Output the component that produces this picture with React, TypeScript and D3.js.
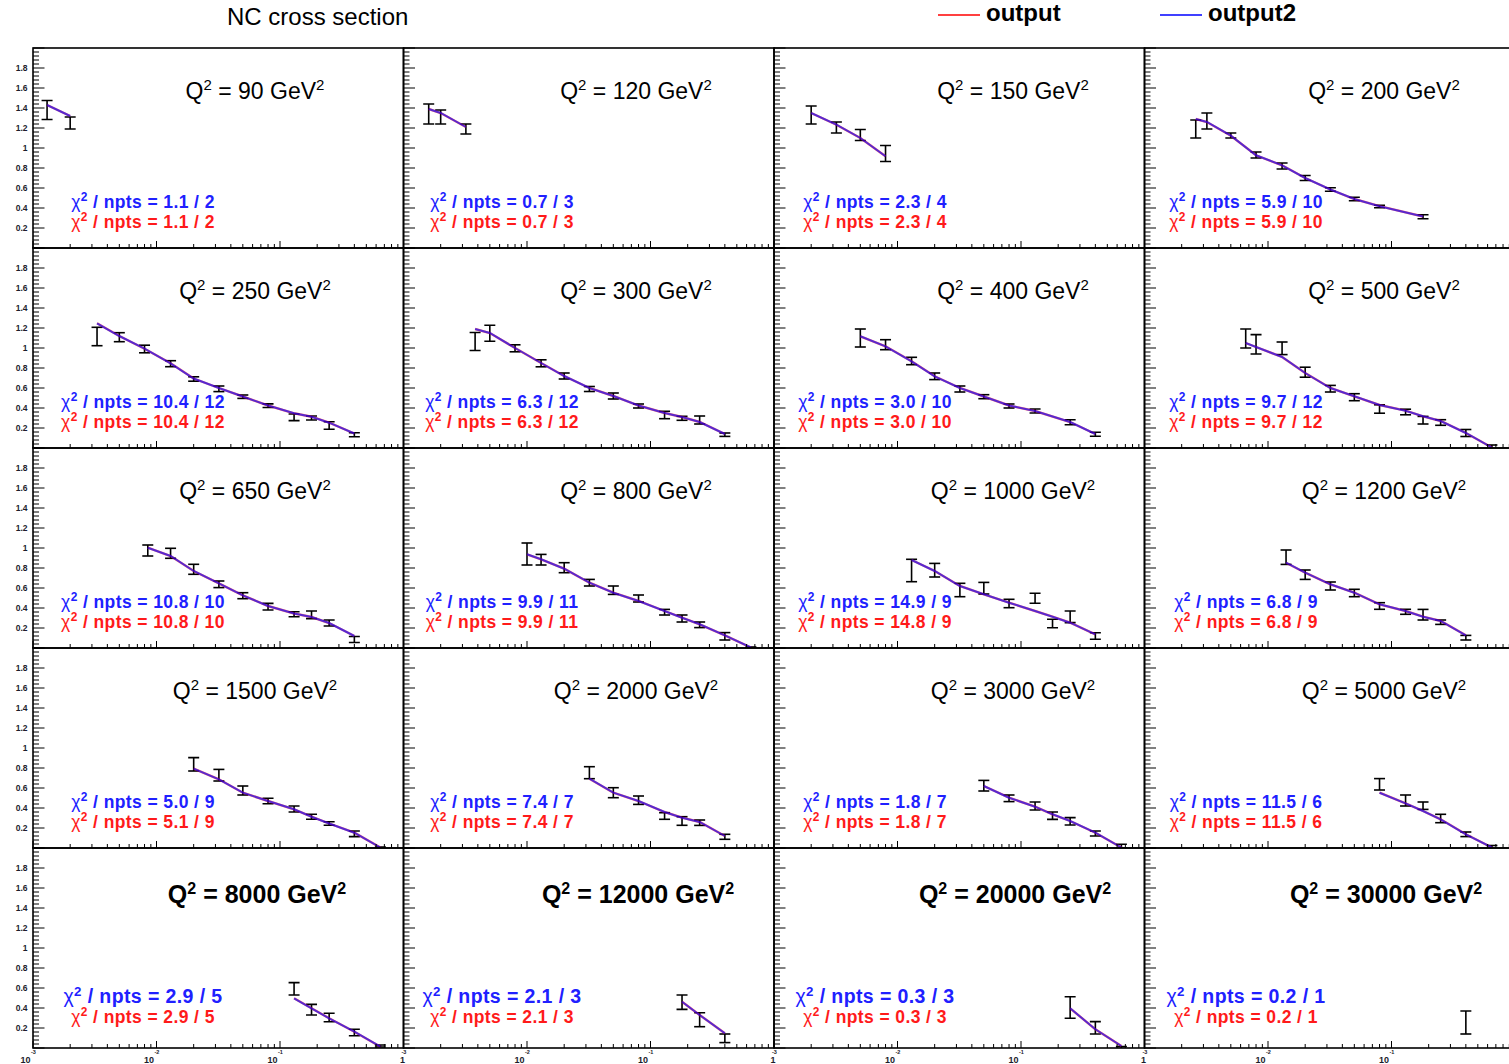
import React from "react";
import * as d3 from "d3";

// ---------------- data ----------------
const Q2_VALUES: number[] = [90, 120, 150, 200, 250, 300, 400, 500, 650, 800, 1000, 1200, 1500, 2000, 3000, 5000, 8000, 12000, 20000, 30000];

const X_VALUES: number[][] = [
  [0.0013, 0.002],
  [0.0016, 0.002, 0.0032],
  [0.002, 0.0032, 0.005, 0.008],
  [0.0026, 0.0032, 0.005, 0.008, 0.013, 0.02, 0.032, 0.05, 0.08, 0.18],
  [0.0033, 0.005, 0.008, 0.013, 0.02, 0.032, 0.05, 0.08, 0.13, 0.18, 0.25, 0.4],
  [0.0038, 0.005, 0.008, 0.013, 0.02, 0.032, 0.05, 0.08, 0.13, 0.18, 0.25, 0.4],
  [0.005, 0.008, 0.013, 0.02, 0.032, 0.05, 0.08, 0.13, 0.25, 0.4],
  [0.0066, 0.008, 0.013, 0.02, 0.032, 0.05, 0.08, 0.13, 0.18, 0.25, 0.4, 0.65],
  [0.0085, 0.013, 0.02, 0.032, 0.05, 0.08, 0.13, 0.18, 0.25, 0.4],
  [0.01, 0.013, 0.02, 0.032, 0.05, 0.08, 0.13, 0.18, 0.25, 0.4, 0.65],
  [0.013, 0.02, 0.032, 0.05, 0.08, 0.13, 0.18, 0.25, 0.4],
  [0.014, 0.02, 0.032, 0.05, 0.08, 0.13, 0.18, 0.25, 0.4],
  [0.02, 0.032, 0.05, 0.08, 0.13, 0.18, 0.25, 0.4, 0.65],
  [0.032, 0.05, 0.08, 0.13, 0.18, 0.25, 0.4],
  [0.05, 0.08, 0.13, 0.18, 0.25, 0.4, 0.65],
  [0.08, 0.13, 0.18, 0.25, 0.4, 0.65],
  [0.13, 0.18, 0.25, 0.4, 0.65],
  [0.18, 0.25, 0.4],
  [0.25, 0.4, 0.65],
  [0.4],
];

const DATA_VALUES: number[][] = [
  [1.38, 1.25],
  [1.34, 1.31, 1.19],
  [1.33, 1.205, 1.13, 0.945],
  [1.19, 1.27, 1.125, 0.93, 0.82, 0.7, 0.585, 0.49, 0.415, 0.313],
  [1.115, 1.108, 0.99, 0.843, 0.69, 0.592, 0.513, 0.423, 0.307, 0.3, 0.225, 0.133],
  [1.065, 1.147, 0.997, 0.847, 0.72, 0.59, 0.52, 0.42, 0.33, 0.297, 0.28, 0.133],
  [1.1, 1.033, 0.87, 0.717, 0.59, 0.513, 0.42, 0.37, 0.258, 0.138],
  [1.095, 1.037, 0.997, 0.758, 0.593, 0.508, 0.39, 0.36, 0.278, 0.255, 0.15, 0.01],
  [0.975, 0.947, 0.787, 0.637, 0.523, 0.413, 0.338, 0.332, 0.25, 0.085],
  [0.94, 0.883, 0.803, 0.653, 0.578, 0.495, 0.358, 0.295, 0.232, 0.117, 0.005],
  [0.775, 0.778, 0.58, 0.598, 0.445, 0.497, 0.245, 0.312, 0.12],
  [0.908, 0.733, 0.62, 0.55, 0.42, 0.362, 0.333, 0.258, 0.103],
  [0.837, 0.728, 0.575, 0.47, 0.39, 0.312, 0.245, 0.142, 0.005],
  [0.753, 0.553, 0.478, 0.32, 0.27, 0.253, 0.112],
  [0.623, 0.497, 0.42, 0.323, 0.267, 0.145, 0.02],
  [0.637, 0.475, 0.423, 0.295, 0.137, 0.01],
  [0.592, 0.383, 0.305, 0.155, 0.02],
  [0.458, 0.283, 0.097],
  [0.405, 0.202, 0.005],
  [0.255],
];

const DATA_ERRORS: number[][] = [
  [0.095, 0.06],
  [0.1, 0.07, 0.05],
  [0.09, 0.055, 0.055, 0.08],
  [0.09, 0.08, 0.025, 0.03, 0.03, 0.025, 0.017, 0.017, 0.013, 0.02],
  [0.092, 0.045, 0.038, 0.03, 0.022, 0.028, 0.017, 0.018, 0.033, 0.02, 0.038, 0.02],
  [0.09, 0.08, 0.035, 0.035, 0.03, 0.025, 0.03, 0.02, 0.037, 0.02, 0.04, 0.017],
  [0.09, 0.05, 0.037, 0.033, 0.03, 0.02, 0.02, 0.02, 0.025, 0.02],
  [0.095, 0.097, 0.063, 0.05, 0.033, 0.035, 0.042, 0.028, 0.038, 0.028, 0.035, 0.02],
  [0.055, 0.05, 0.05, 0.033, 0.03, 0.033, 0.025, 0.038, 0.03, 0.03],
  [0.11, 0.053, 0.05, 0.033, 0.042, 0.035, 0.028, 0.035, 0.028, 0.037, 0.005],
  [0.112, 0.068, 0.067, 0.058, 0.042, 0.05, 0.042, 0.058, 0.033],
  [0.072, 0.047, 0.04, 0.037, 0.033, 0.025, 0.053, 0.022, 0.023],
  [0.067, 0.058, 0.045, 0.027, 0.03, 0.025, 0.018, 0.028, 0.005],
  [0.06, 0.05, 0.042, 0.033, 0.043, 0.027, 0.025],
  [0.053, 0.033, 0.04, 0.037, 0.037, 0.025, 0.017],
  [0.057, 0.055, 0.037, 0.042, 0.023, 0.015],
  [0.062, 0.053, 0.042, 0.032, 0.01],
  [0.072, 0.07, 0.043],
  [0.108, 0.062, 0.01],
  [0.115],
];

// theory curve of "output" (red)
const THEORY_OUTPUT: number[][] = [
  [1.43, 1.32],
  [1.39, 1.35, 1.21],
  [1.35, 1.233, 1.1, 0.917],
  [1.29, 1.26, 1.123, 0.927, 0.827, 0.7, 0.585, 0.49, 0.418, 0.315],
  [1.247, 1.12, 0.993, 0.847, 0.695, 0.6, 0.515, 0.425, 0.347, 0.313, 0.253, 0.145],
  [1.19, 1.15, 1.0, 0.85, 0.72, 0.6, 0.52, 0.425, 0.35, 0.31, 0.26, 0.14],
  [1.117, 1.017, 0.867, 0.717, 0.6, 0.515, 0.425, 0.37, 0.26, 0.14],
  [1.05, 1.01, 0.91, 0.75, 0.6, 0.517, 0.43, 0.373, 0.317, 0.27, 0.15, 0.005],
  [1.003, 0.92, 0.77, 0.647, 0.527, 0.42, 0.345, 0.31, 0.25, 0.12],
  [0.937, 0.887, 0.793, 0.653, 0.553, 0.47, 0.37, 0.303, 0.237, 0.127, 0.005],
  [0.88, 0.77, 0.62, 0.537, 0.453, 0.37, 0.313, 0.253, 0.137],
  [0.853, 0.753, 0.637, 0.553, 0.437, 0.37, 0.313, 0.27, 0.127],
  [0.793, 0.687, 0.553, 0.47, 0.387, 0.313, 0.245, 0.153, 0.005],
  [0.693, 0.553, 0.47, 0.36, 0.303, 0.26, 0.12],
  [0.62, 0.503, 0.413, 0.337, 0.27, 0.153, 0.005],
  [0.553, 0.447, 0.37, 0.287, 0.137, 0.005],
  [0.497, 0.397, 0.297, 0.163, 0.013],
  [0.463, 0.33, 0.147],
  [0.397, 0.187, 0.02],
  [0.26],
];
// theory curve of "output2" (blue): identical readings, drawn on top of the red one
const THEORY_OUTPUT2: number[][] = THEORY_OUTPUT.map((r) => r.slice());

const CHI2_OUTPUT: number[] = [1.1, 0.7, 2.3, 5.9, 10.4, 6.3, 3.0, 9.7, 10.8, 9.9, 14.8, 6.8, 5.1, 7.4, 1.8, 11.5, 2.9, 2.1, 0.3, 0.2];
const CHI2_OUTPUT2: number[] = [1.1, 0.7, 2.3, 5.9, 10.4, 6.3, 3.0, 9.7, 10.8, 9.9, 14.9, 6.8, 5.0, 7.4, 1.8, 11.5, 2.9, 2.1, 0.3, 0.2];
const NPTS: number[] = [2, 3, 4, 10, 12, 12, 10, 12, 10, 11, 9, 9, 9, 7, 7, 6, 5, 3, 3, 1];

const Y_TICK_LABELS: number[] = [0.2, 0.4, 0.6, 0.8, 1, 1.2, 1.4, 1.6, 1.8];
const X_DECADES: number[] = [-3, -2, -1, 0];

const LEGEND_ITEMS = [
  { label: "output", color: "#ff0000" },
  { label: "output2", color: "#0000ff" },
];

// ---------------- layout ----------------
const COL_LEFT = [33, 403.5, 774, 1144.5];
const ROW_TOP = [48, 248, 448, 648, 848];
const PANEL_W = 370.5;
const PANEL_H = 200;
const Q_LABEL_DX = [222, 232.5, 239, 239.5];
const CHI_DX = [110, 98.5, 101, 101.5];
const SVG_W = 1509;

const FONT = "'Liberation Sans', Arial, Helvetica, sans-serif";

export default function App() {
  const panels = Q2_VALUES.map((q2, i) => {
    const col = i % 4;
    const row = Math.floor(i / 4);
    const L = COL_LEFT[col];
    const T = ROW_TOP[row];
    const xs = d3.scaleLog().domain([1e-3, 1]).range([L, L + PANEL_W]);
    const ys = d3.scaleLinear().domain([0, 2]).range([T + PANEL_H, T]);
    const xv = X_VALUES[i];
    const line = d3
      .line<number>()
      .x((_, k) => xs(xv[k]))
      .y((d) => ys(d));
    const redPath = THEORY_OUTPUT[i].length > 1 ? line(THEORY_OUTPUT[i]) : null;
    const bluePath = THEORY_OUTPUT2[i].length > 1 ? line(THEORY_OUTPUT2[i]) : null;

    const yTicks = d3.range(0, 51).map((k) => ({ v: k * 0.04, major: k % 5 === 0 }));
    const xTicks: { v: number; major: boolean }[] = [];
    X_DECADES.forEach((d) => {
      xTicks.push({ v: Math.pow(10, d), major: true });
      if (d < 0) for (let m = 2; m <= 9; m++) xTicks.push({ v: m * Math.pow(10, d), major: false });
    });

    const isLast = row === 4;
    const clipId = `clip-${i}`;
    const cx = L + CHI_DX[col];
    const qx = L + Q_LABEL_DX[col] + (isLast ? 2 : 0);
    const blueSize = isLast ? 19.5 : 17.5;
    const redSize = 17.5;
    return (
      <g key={i}>
        <defs>
          <clipPath id={clipId}>
            <rect x={L} y={T} width={PANEL_W} height={PANEL_H} />
          </clipPath>
        </defs>
        <g clipPath={`url(#${clipId})`}>
          {xv.map((x, k) => {
            const px = xs(x);
            const y0 = ys(DATA_VALUES[i][k] - DATA_ERRORS[i][k]);
            const y1 = ys(DATA_VALUES[i][k] + DATA_ERRORS[i][k]);
            return (
              <g key={k} stroke="#000" strokeWidth={1.6}>
                <line x1={px} x2={px} y1={y0} y2={y1} />
                <line x1={px - 5.5} x2={px + 5.5} y1={y0} y2={y0} />
                <line x1={px - 5.5} x2={px + 5.5} y1={y1} y2={y1} />
              </g>
            );
          })}
          {redPath && <path d={redPath} fill="none" stroke="#ff0000" strokeOpacity={0.55} strokeWidth={2.4} />}
          {bluePath && <path d={bluePath} fill="none" stroke="#0000ff" strokeOpacity={0.65} strokeWidth={2} />}
        </g>
        {yTicks.map((t, k) => (
          <line key={"y" + k} x1={L} x2={L + (t.major ? 11.5 : 6)} y1={ys(t.v)} y2={ys(t.v)} stroke="#000" strokeWidth={1} />
        ))}
        {xTicks.map((t, k) => (
          <line key={"x" + k} x1={xs(t.v)} x2={xs(t.v)} y1={T + PANEL_H} y2={T + PANEL_H - (t.major ? 7 : 4)} stroke="#000" strokeWidth={1} />
        ))}
        <rect x={L} y={T} width={PANEL_W} height={PANEL_H} fill="none" stroke="#000" strokeWidth={1.6} />
        {col === 0 &&
          Y_TICK_LABELS.map((v) => (
            <text key={"yl" + v} x={27.5} y={ys(v) + 3} textAnchor="end" fontFamily={FONT} fontSize={8.5} fontWeight="bold" fill="#1c1c2c">
              {String(v)}
            </text>
          ))}
        {isLast &&
          X_DECADES.map((d) => {
            const px = xs(Math.pow(10, d));
            if (d === 0) {
              if (px > SVG_W - 4) return null;
              return (
                <text key={"xl" + d} x={px - 1} y={1062.5} textAnchor="middle" fontFamily={FONT} fontSize={9} fontWeight="bold" fill="#1c1c2c">
                  1
                </text>
              );
            }
            return (
              <g key={"xl" + d}>
                {(d !== -3 || col === 0) && (
                  <text x={px - 2.5} y={1062.5} textAnchor="end" fontFamily={FONT} fontSize={9} fontWeight="bold" fill="#1c1c2c">
                    10
                  </text>
                )}
                <text x={px - 2} y={1054} textAnchor="start" fontFamily={FONT} fontSize={5.5} fontWeight="bold" fill="#1c1c2c">
                  {String(d)}
                </text>
              </g>
            );
          })}
        <text x={qx} y={T + (isLast ? 55 : 51)} textAnchor="middle" fontFamily={FONT} fontSize={isLast ? 25 : 23} fontWeight={isLast ? "bold" : "normal"} fill="#000" style={{ whiteSpace: "pre" }}>
          <tspan>Q</tspan>
          <tspan dy={-9} fontSize={isLast ? 16 : 15}>2</tspan>
          <tspan dy={9}>{` = ${q2} GeV`}</tspan>
          <tspan dy={-9} fontSize={isLast ? 16 : 15}>2</tspan>
        </text>
        <text x={cx} y={T + (isLast ? 155 : 160)} textAnchor="middle" fontFamily={FONT} fontSize={blueSize} fontWeight="bold" fill="#2020ff" letterSpacing={0.4} style={{ whiteSpace: "pre" }}>
          <tspan fontWeight="normal">χ</tspan>
          <tspan dy={-7} fontSize={blueSize * 0.68}>2</tspan>
          <tspan dy={7}>{` / npts = ${CHI2_OUTPUT2[i].toFixed(1)} / ${NPTS[i]}`}</tspan>
        </text>
        <text x={cx} y={T + (isLast ? 175 : 180)} textAnchor="middle" fontFamily={FONT} fontSize={redSize} fontWeight="bold" fill="#ff1a1a" letterSpacing={0.4} style={{ whiteSpace: "pre" }}>
          <tspan fontWeight="normal">χ</tspan>
          <tspan dy={-7} fontSize={redSize * 0.68}>2</tspan>
          <tspan dy={7}>{` / npts = ${CHI2_OUTPUT[i].toFixed(1)} / ${NPTS[i]}`}</tspan>
        </text>
      </g>
    );
  });

  const legendX = [938, 1160];
  return (
    <svg width={SVG_W} height={1064} style={{ position: "absolute", left: 0, top: 0, background: "#fff" }}>
      <rect x={0} y={0} width={SVG_W} height={1064} fill="#fff" />
      <text x={227} y={25} fontFamily={FONT} fontSize={24} fill="#000">
        NC cross section
      </text>
      {LEGEND_ITEMS.map((it, k) => (
        <g key={it.label}>
          <line x1={legendX[k]} x2={legendX[k] + 42} y1={15} y2={15} stroke={it.color} strokeWidth={1.5} />
          <text x={legendX[k] + 48} y={21} fontFamily={FONT} fontSize={24} fontWeight="bold" fill="#000">
            {it.label}
          </text>
        </g>
      ))}
      {panels}
    </svg>
  );
}
